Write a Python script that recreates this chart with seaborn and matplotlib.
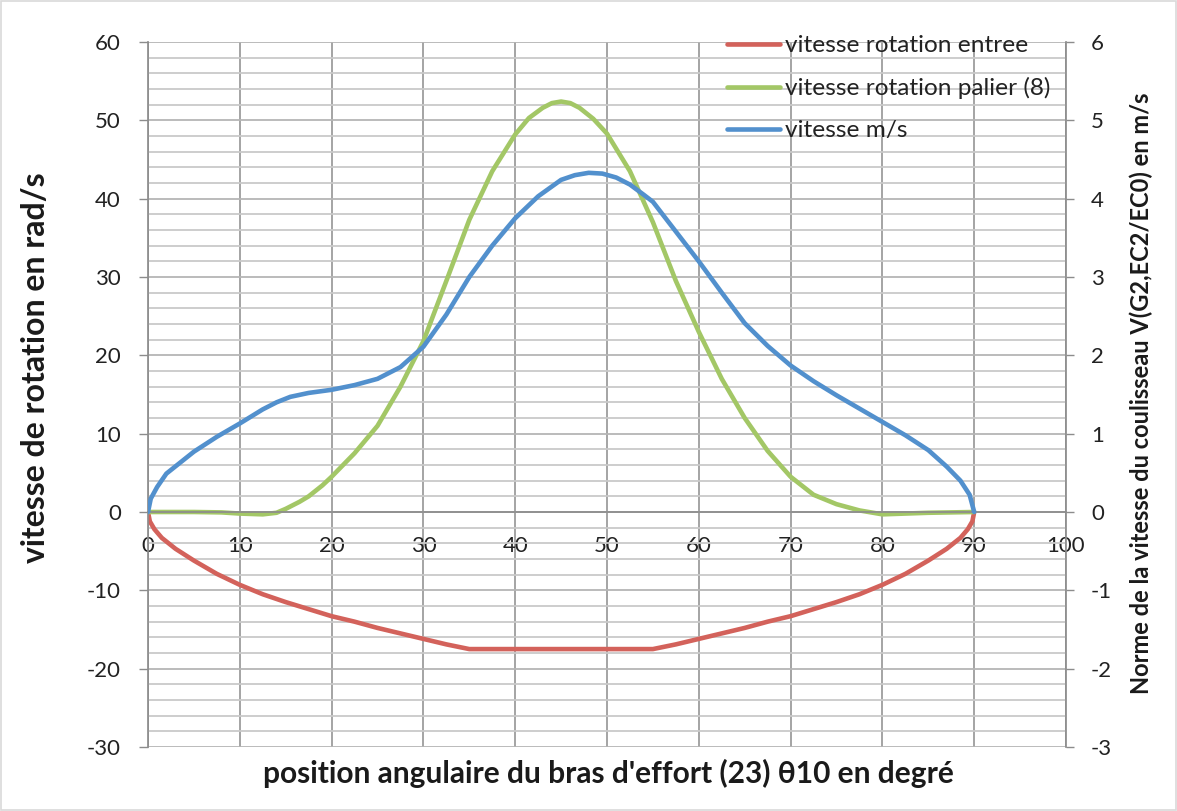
import matplotlib
matplotlib.use("Agg")
import matplotlib.pyplot as plt
import matplotlib.patches as mpatches
from matplotlib.ticker import MultipleLocator
import seaborn as sns

# ---- data ----
# vitesse rotation entree (rad/s, left axis)
x_entree = [0, 0.2, 0.7, 1.5, 3, 5, 7.5, 10, 12.5, 15, 17.5, 20, 22.5, 25, 27.5, 30, 32.5, 35,
            55, 57.5, 60, 62.5, 65, 67.5, 70, 72.5, 75, 77.5, 80, 82.5, 85, 87, 88.5, 89.3, 89.8, 90]
v_entree = [0, -1.2, -2.2, -3.3, -4.7, -6.2, -7.9, -9.3, -10.5, -11.5, -12.4, -13.3, -14.0, -14.8, -15.5, -16.2, -16.9, -17.5,
            -17.5, -16.9, -16.2, -15.5, -14.8, -14.0, -13.3, -12.4, -11.5, -10.5, -9.3, -7.9, -6.2, -4.7, -3.3, -2.2, -1.2, 0]

# vitesse rotation palier (8) (rad/s, left axis)
x_palier = [0, 5, 8, 10, 12.5, 14, 15, 16.5, 17.5, 19, 20, 22.5, 25, 27.5, 30, 32.5, 35, 37.5, 40, 41.5, 43, 44,
            45, 46, 47, 48.5, 50, 52.5, 55, 57.5, 60, 62.5, 65, 67.5, 70, 72.5, 75, 77.5, 80, 85, 90]
v_palier = [0, 0, -0.05, -0.2, -0.3, -0.1, 0.4, 1.3, 2.0, 3.4, 4.5, 7.5, 11.0, 16.0, 21.8, 29.5, 37.3, 43.5, 48.2, 50.3, 51.6, 52.2,
            52.4, 52.2, 51.6, 50.2, 48.3, 43.5, 37.0, 29.5, 23.0, 17.0, 12.0, 7.8, 4.5, 2.2, 1.0, 0.2, -0.3, -0.1, 0]

# vitesse m/s (right axis)
x_ms = [0, 0.3, 1, 2, 3.5, 5, 7.5, 10, 12.5, 14, 15.5, 17.5, 20, 22.5, 25, 27.5, 30, 32.5, 35, 37.5, 40,
        42.5, 45, 46.5, 48, 49.5, 51, 52.5, 54, 55, 57.5, 60, 62.5, 65, 67.5, 70, 72.5, 75, 77.5, 80,
        82.5, 85, 87, 88.5, 89.5, 90]
v_ms = [0, 0.17, 0.32, 0.49, 0.63, 0.77, 0.96, 1.13, 1.31, 1.40, 1.47, 1.52, 1.56, 1.62, 1.70, 1.85, 2.11, 2.52, 3.00, 3.40, 3.75,
        4.03, 4.24, 4.30, 4.33, 4.32, 4.27, 4.18, 4.05, 3.96, 3.58, 3.20, 2.80, 2.41, 2.12, 1.87, 1.67, 1.49, 1.32, 1.15,
        0.98, 0.79, 0.58, 0.40, 0.22, 0]

labels = ["vitesse rotation entree", "vitesse rotation palier (8)", "vitesse m/s"]
colors = ["#d3625b", "#a3c766", "#5290cd"]

sns.set_theme(style="white")
plt.rcParams["font.family"] = ["Lato", "DejaVu Sans"]
plt.rcParams["axes.unicode_minus"] = False

fig = plt.figure(figsize=(11.77, 8.11), dpi=100)
ax = fig.add_axes([148 / 1177, 64 / 811, 918 / 1177, 705 / 811])
ax2 = ax.twinx()

lw = 3.3
sns.lineplot(x=x_entree, y=v_entree, ax=ax, color=colors[0], lw=lw, sort=False, estimator=None, label=labels[0], legend=False)
sns.lineplot(x=x_palier, y=v_palier, ax=ax, color=colors[1], lw=lw, sort=False, estimator=None, label=labels[1], legend=False)
sns.lineplot(x=x_ms, y=v_ms, ax=ax2, color=colors[2], lw=lw, sort=False, estimator=None, label=labels[2], legend=False)

ax.set_xlim(0, 100)
ax.set_ylim(-30, 60)
ax2.set_ylim(-3, 6)
ax.xaxis.set_major_locator(MultipleLocator(10))
ax.yaxis.set_major_locator(MultipleLocator(10))
ax.yaxis.set_minor_locator(MultipleLocator(2))
ax2.yaxis.set_major_locator(MultipleLocator(1))

# Excel-like grid
ax.grid(True, which="minor", axis="y", color="#c9c9c9", lw=1.3)
ax.grid(True, which="major", axis="y", color="#b5b5b5", lw=1.3)
ax.grid(True, which="major", axis="x", color="#9d9d9d", lw=1.3)
ax.set_axisbelow(True)

spine_col = "#8c8c8c"
for a in (ax, ax2):
    for s in a.spines.values():
        s.set_visible(False)
ax.spines["left"].set_visible(True)
ax.spines["left"].set_color(spine_col)
ax.spines["bottom"].set_visible(True)
ax.spines["bottom"].set_position(("data", 0))
ax.spines["bottom"].set_color(spine_col)
ax2.spines["right"].set_visible(True)
ax2.spines["right"].set_color(spine_col)

ax.tick_params(axis="y", which="major", direction="out", length=6.5, width=1, color=spine_col,
               pad=13, labelsize=16, left=True)
ax.tick_params(axis="y", which="minor", length=0)
ax.tick_params(axis="x", length=0, pad=17, labelsize=16, colors="#222222")
ax.tick_params(axis="y", labelcolor="#222222")
ax2.tick_params(axis="y", direction="out", length=6, width=1, color=spine_col, pad=12,
                labelsize=16, labelcolor="#222222", right=True)
ax.set_xlabel("")
ax.set_ylabel("")
ax2.set_ylabel("")

fig.text(36 / 1177, 1 - 368 / 811, "vitesse de rotation en rad/s", rotation=90, ha="center", va="center",
         fontsize=23, fontweight="bold", color="#1a1a1a")
fig.text(1141 / 1177, 1 - 393 / 811, "Norme de la vitesse du coulisseau V(G2,EC2/EC0) en m/s", rotation=90,
         ha="center", va="center", fontsize=17, fontweight="bold", color="#1a1a1a")
fig.text(608 / 1177, 1 - 773 / 811, "position angulaire du bras d'effort (23) \u03b810 en degr\u00e9",
         ha="center", va="center", fontsize=21.5, fontweight="bold", color="#1a1a1a")

handles = ax.get_lines()[:2] + ax2.get_lines()[:1]
fig.legend(handles, labels, loc="upper left", bbox_to_anchor=(727 / 1177, 1 - 35 / 811), frameon=False,
           fontsize=17.6, handlelength=2.17, handletextpad=0.2, labelspacing=0.86, borderpad=0, borderaxespad=0,
           labelcolor="#222222")

fig.patches.append(mpatches.Rectangle((0.001, 0.001), 0.998, 0.998, transform=fig.transFigure,
                                      fill=False, edgecolor="#d9d9d9", lw=1.2))

fig.savefig("out.png", dpi=100)
